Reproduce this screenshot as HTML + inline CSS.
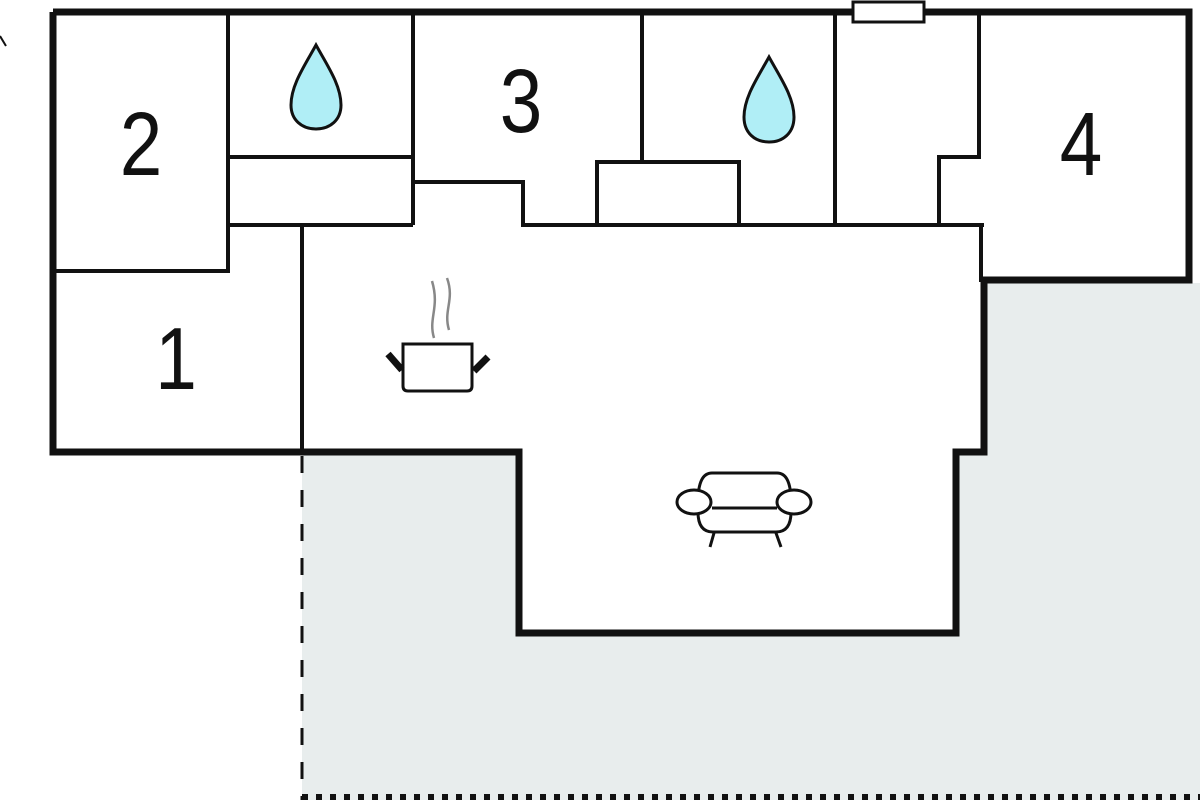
<!DOCTYPE html>
<html><head><meta charset="utf-8"><style>
html,body{margin:0;padding:0;background:#fff;width:1200px;height:800px;overflow:hidden}
svg{display:block}
text{font-family:"Liberation Sans",sans-serif;fill:#111}
</style></head><body>
<svg width="1200" height="800" viewBox="0 0 1200 800" xmlns="http://www.w3.org/2000/svg">
<rect x="302" y="283" width="898" height="517" fill="#e8eded"/>
<polygon points="53,12 1189,12 1189,280 984,280 984,452 956,452 956,633 519,633 519,452 53,452" fill="#fff"/>
<line x1="302" y1="456" x2="302" y2="800" stroke="#111" stroke-width="3" stroke-dasharray="17,17"/>
<line x1="302" y1="797" x2="1200" y2="797" stroke="#111" stroke-width="6" stroke-dasharray="6,8"/>
<polyline points="53,12 1189,12 1189,280 984,280 984,452 956,452 956,633 519,633 519,452 53,452 53,12" fill="none" stroke="#111" stroke-width="7" stroke-linejoin="miter"/>
<g fill="none" stroke="#111" stroke-width="4">
<polyline points="228,12 228,271 53,271"/>
<line x1="228" y1="157" x2="413" y2="157"/>
<line x1="228" y1="225" x2="413" y2="225"/>
<line x1="413" y1="12" x2="413" y2="225"/>
<polyline points="413,182 523,182 523,225 984,225"/>
<line x1="302" y1="225" x2="302" y2="452"/>
<line x1="642" y1="12" x2="642" y2="162"/>
<polyline points="597,225 597,162 739,162 739,225"/>
<line x1="835" y1="12" x2="835" y2="225"/>
<polyline points="979,12 979,157 939,157 939,225"/>
<line x1="981" y1="225" x2="981" y2="282"/>
</g>
<rect x="853" y="2" width="71" height="20" fill="#fff" stroke="#111" stroke-width="3"/>
<line x1="0" y1="36" x2="6" y2="46" stroke="#111" stroke-width="2"/>
<path d="M316,45 C305,65 291,85 291,105 C291,120 302,129 316,129 C330,129 341,120 341,105 C341,85 327,65 316,45 Z" fill="#b0eef6" stroke="#111" stroke-width="3"/>
<path d="M769,57 C758,77 744,97 744,117 C744,133 755,142 769,142 C783,142 794,133 794,117 C794,97 780,77 769,57 Z" fill="#b0eef6" stroke="#111" stroke-width="3"/>
<g transform="translate(141,175) scale(0.85,1)"><text font-size="90" text-anchor="middle">2</text></g>
<g transform="translate(521,132) scale(0.85,1)"><text font-size="90" text-anchor="middle">3</text></g>
<g transform="translate(1081,175) scale(0.85,1)"><text font-size="90" text-anchor="middle">4</text></g>
<g transform="translate(176,389) scale(0.85,1)"><text font-size="88" text-anchor="middle">1</text></g>
<path d="M434,338 C428,318 440,308 432,281" fill="none" stroke="#888" stroke-width="2.5"/>
<path d="M449,330 C443,310 455,300 447,278" fill="none" stroke="#888" stroke-width="2.5"/>
<path d="M403,344 H472 V386 Q472,391 467,391 H408 Q403,391 403,386 Z" fill="#fff" stroke="#111" stroke-width="3"/>
<line x1="388" y1="354" x2="402" y2="370" stroke="#111" stroke-width="7"/>
<line x1="488" y1="357" x2="474" y2="371" stroke="#111" stroke-width="7"/>
<g fill="#fff" stroke="#111" stroke-width="3">
<path d="M698,502 Q698,473 712,473 H777 Q791,473 791,502 V512 Q791,532 776,532 H713 Q698,532 698,512 Z"/>
<line x1="712" y1="508" x2="777" y2="508"/>
<ellipse cx="694" cy="502" rx="17" ry="12"/>
<ellipse cx="794" cy="502" rx="17" ry="12"/>
<line x1="714" y1="533" x2="710" y2="547"/>
<line x1="776" y1="533" x2="781" y2="547"/>
</g>
</svg>
</body></html>
